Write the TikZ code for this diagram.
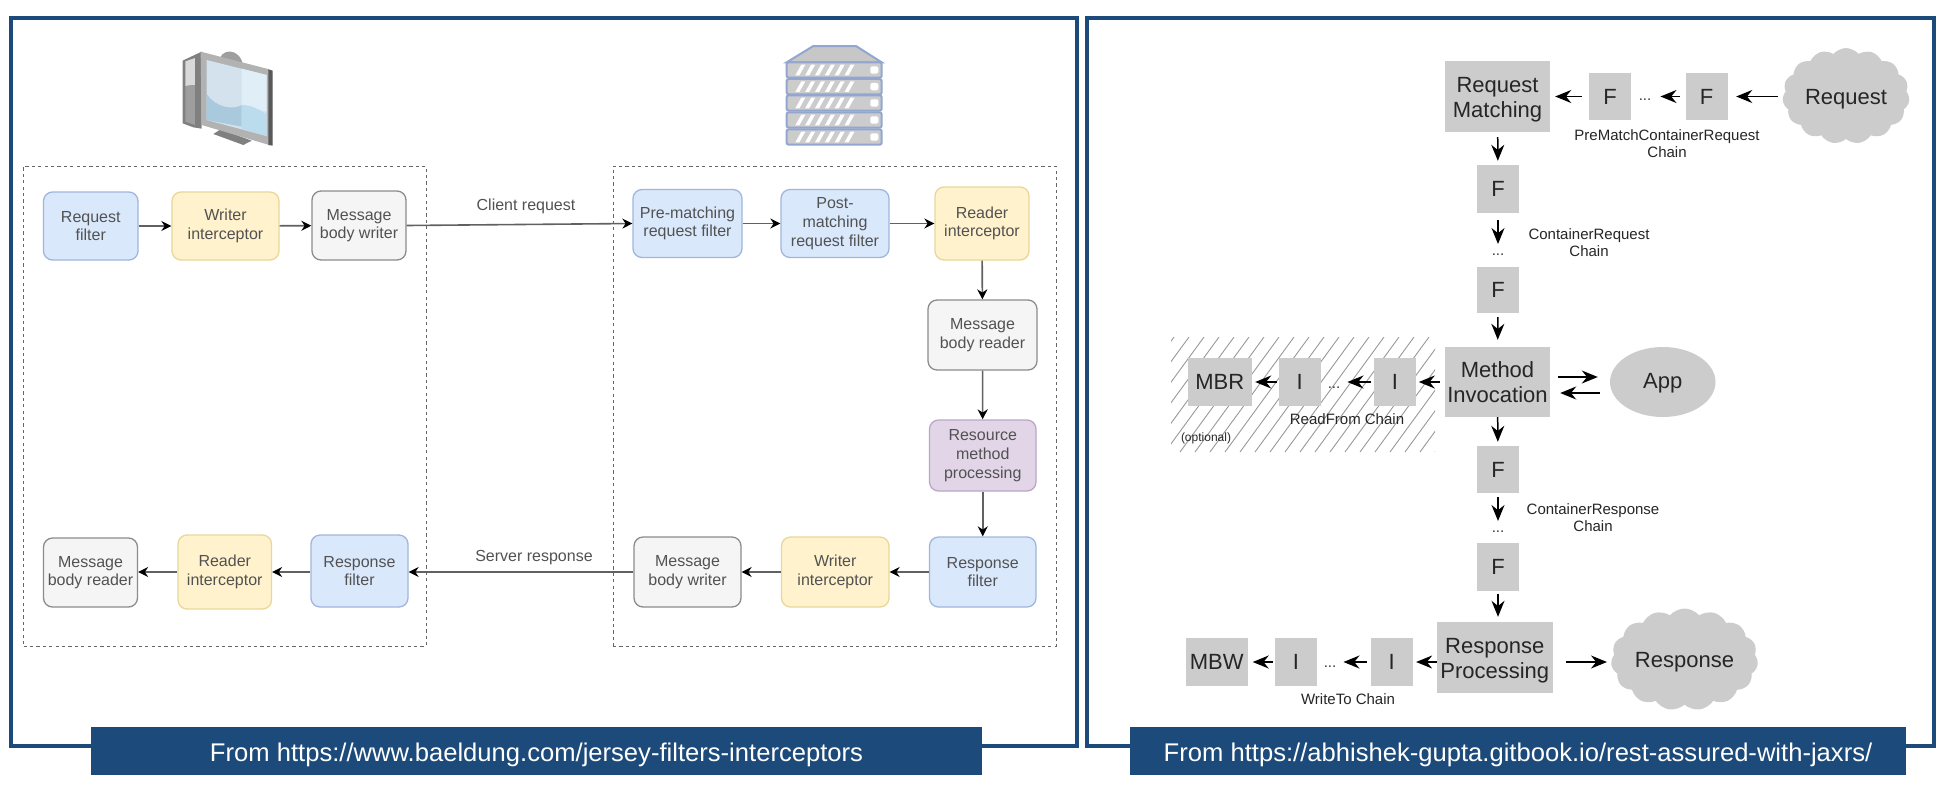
\documentclass[tikz,border=0pt]{standalone}
\usepackage{fontspec}
\setmainfont{Liberation Sans}
\usetikzlibrary{arrows.meta,shapes.symbols,shapes.geometric}
\definecolor{navy}{HTML}{1C4A7A}
\definecolor{gbox}{HTML}{CCCCCC}
\definecolor{colorbluedraw}{HTML}{A0B6DC}
\definecolor{colorbluefill}{HTML}{DAE8FC}
\definecolor{coloryellowdraw}{HTML}{E9D79A}
\definecolor{coloryellowfill}{HTML}{FFF2CC}
\definecolor{colorpurpledraw}{HTML}{BBA6CB}
\definecolor{colorpurplefill}{HTML}{E1D5E7}
\definecolor{colorscreenA}{HTML}{D3E2EC}
\definecolor{colorscreenB}{HTML}{E0EEF7}
\definecolor{colorscreenC}{HTML}{A9C9DC}
\definecolor{colorscreenD}{HTML}{BBDCEC}
\definecolor{colorsrv}{HTML}{93A6CF}
\newcommand{\lowertext}{\rule{0pt}{21pt}}
\tikzset{
  frame/.style={draw=navy,line width=4pt,inner sep=0pt,fill=white},
  banner/.style={fill=navy,text=white,inner sep=0pt,minimum width=#1,minimum height=48pt,font=\fontsize{25.6}{28}\selectfont},
  zone/.style={draw=black!60,line width=1pt,dash pattern=on 3.2pt off 3.2pt,inner sep=0pt},
  flow/.style={rounded corners=9pt,inner sep=0pt,align=center,text=black!68,line width=1.3pt,font=\fontsize{16}{18.7}\selectfont},
  bluebox/.style={flow,draw=colorbluedraw,fill=colorbluefill},
  yellowbox/.style={flow,draw=coloryellowdraw,fill=coloryellowfill},
  greybox/.style={flow,draw=black!45,fill=black!4},
  purplebox/.style={flow,draw=colorpurpledraw,fill=colorpurplefill},
  lab/.style={text=black!68,inner sep=0pt,font=\fontsize{16}{19}\selectfont},
  flowarr/.style={draw=black!62,line width=1.6pt,-{Stealth[length=10pt,width=10pt,black]}},
  gnode/.style={fill=gbox,inner sep=0pt,align=center,text=black!85,font=\fontsize{22}{25}\selectfont},
  gcloud/.style={cloud,cloud puffs=15,cloud puff arc=100,fill=gbox,inner sep=0pt,text=black!85,font=\fontsize{22}{25}\selectfont},
  glab/.style={inner sep=0pt,align=center,text=black!85,font=\fontsize{15}{17}\selectfont},
  gdots/.style={inner sep=0pt,text=black!80,font=\fontsize{15}{17}\selectfont},
  garr/.style={draw=black,line width=1.5pt,-{Stealth[length=16pt,width=13pt]}},
}
\begin{document}
\begin{tikzpicture}[x=1pt,y=-1pt]
\useasboundingbox (0,0) rectangle (1954,796);
\fill[white] (0,0) rectangle (1954,796);
% frames
\node[frame,minimum width=1066pt,minimum height=727.5pt] (frameL) at (544,381.75) {};
\node[frame,minimum width=847pt,minimum height=727.5pt] (frameR) at (1510.5,381.75) {};
\node[banner=891pt] (banL) at (536.5,751) {\rule{0pt}{27pt}From https://www.baeldung.com/jersey-filters-interceptors};
\node[banner=776pt] (banR) at (1518,751) {\rule{0pt}{27pt}From https://abhishek-gupta.gitbook.io/rest-assured-with-jaxrs/};
% computer icon
\begin{scope}[shift={(160,30)},x=0.3333pt,y=-0.3333pt]
  \fill[black!38] (176,100) .. controls (178,52) and (242,50) .. (250,110) -- cycle;
  \fill[black!50] (68,92) -- (125,65) -- (125,296) -- (100,292) -- (68,280) -- cycle;
  \fill[black!15] (76,94) -- (105,84) -- (105,165) -- (76,168) -- cycle;
  \fill[black!38] (76,168) -- (105,165) -- (105,285) -- (76,275) -- cycle;
  \fill[black!50] (160,312) -- (182,298) -- (275,332) -- (250,345) -- cycle;
  \fill[black!30] (122,65) -- (328,118) -- (328,345) -- (125,285) -- cycle;
  \fill[black!65] (325,118) -- (338,122) -- (338,347) -- (325,345) -- cycle;
  \fill[colorscreenA] (140,90) -- (320,135) -- (320,318) -- (140,270) -- cycle;
  \fill[colorscreenB] (245,116) -- (320,135) -- (320,245) -- (245,225) -- cycle;
  \fill[colorscreenC] (140,192) .. controls (170,235) and (220,240) .. (245,225) -- (245,290) -- (140,270) -- cycle;
  \fill[colorscreenD] (245,225) .. controls (275,225) and (300,240) .. (320,255) -- (320,318) -- (245,298) -- cycle;
\end{scope}
% server icon
\begin{scope}[shift={(770,30)},x=0.3333pt,y=-0.3333pt]
  \draw[draw=colorsrv,fill=black!22,line width=2pt] (50,97) -- (130,48) -- (258,48) -- (335,97) -- cycle;
  \foreach \yc in {120,170,219,270,321}{
    \draw[draw=colorsrv,fill=black!20,line width=2pt,rounded corners=2pt] (50,\yc-23) rectangle (335,\yc+23);
    \foreach \i in {0,...,5}{
      \fill[white] (76+29.5*\i,\yc+16) -- (88+29.5*\i,\yc+16) -- (106+29.5*\i,\yc-16) -- (94+29.5*\i,\yc-16) -- cycle;
    }
    \fill[white,rounded corners=1.5pt] (301,\yc-11) rectangle (325,\yc+11);
  }
\end{scope}
% dashed zones
\node[zone,minimum width=402.5pt,minimum height=480pt] (zoneL) at (224.75,406) {};
\node[zone,minimum width=443pt,minimum height=480pt] (zoneR) at (834.5,406) {};
% left diagram nodes
\node[bluebox,minimum width=94.5pt,minimum height=68pt] (rf) at (90.75,226) {Request\\filter};
\node[yellowbox,minimum width=107pt,minimum height=68pt] (wi) at (225.5,226) {Writer\\interceptor};
\node[greybox,minimum width=94pt,minimum height=69pt] (mw) at (359,225.5) {Message\\body writer};
\node[bluebox,minimum width=109pt,minimum height=68pt] (pre) at (687.5,223.5) {Pre-matching\\request filter};
\node[bluebox,minimum width=108pt,minimum height=68pt] (post) at (835,223.5) {Post-\\matching\\request filter};
\node[yellowbox,minimum width=94pt,minimum height=73pt] (ri) at (982,223.5) {Reader\\interceptor};
\node[greybox,minimum width=109pt,minimum height=70pt] (mr) at (982.5,335) {Message\\body reader};
\node[purplebox,minimum width=106.5pt,minimum height=71pt] (res) at (982.75,455.5) {Resource\\method\\processing};
\node[bluebox,minimum width=106.5pt,minimum height=70pt] (srf) at (982.75,572) {Response\\filter};
\node[yellowbox,minimum width=107.5pt,minimum height=70pt] (swi) at (835.25,572) {Writer\\interceptor};
\node[greybox,minimum width=107pt,minimum height=70pt] (smw) at (687.5,572) {Message\\body writer};
\node[bluebox,minimum width=97pt,minimum height=72pt] (crf) at (359.5,571) {Response\\filter};
\node[yellowbox,minimum width=93.5pt,minimum height=74pt] (cri) at (224.75,572) {Reader\\interceptor};
\node[greybox,minimum width=94pt,minimum height=69pt] (cmr) at (90.5,572.5) {Message\\body reader};
\node[lab] (lc) at (526,206) {Client request};
\node[lab] (ls) at (534,558) {Server response};
% left connectors
\draw[flowarr] (rf) -- (wi);
\draw[flowarr] (wi) -- (mw);
\draw[flowarr] (mw.east) -- (pre.west);
\draw[flowarr] (pre) -- (post);
\draw[flowarr] (post) -- (ri);
\draw[flowarr] (ri) -- (mr);
\draw[flowarr] (mr) -- (res);
\draw[flowarr] (res) -- (srf);
\draw[flowarr] (srf) -- (swi);
\draw[flowarr] (swi) -- (smw);
\draw[flowarr] (smw.west) -- (crf.east |- smw.west);
\draw[flowarr] (crf.west |- cri.east) -- (cri.east);
\draw[flowarr] (cri.west) -- (cmr.east |- cri.west);
% hatching
\begin{scope}
  \clip (1171,337) rectangle (1435,452);
  \foreach \hx in {1090,1105,...,1435}{
    \draw[black!40,line width=0.9pt] (\hx,452) -- (\hx+84,337);
  }
\end{scope}
% right diagram nodes
\node[gnode,minimum width=105pt,minimum height=71pt] (rm) at (1497.5,96.5) {\lowertext Request\\Matching};
\node[gnode,minimum width=42pt,minimum height=47pt] (f1) at (1610,96.5) {F};
\node[gnode,minimum width=42pt,minimum height=47pt] (f2) at (1706.5,96.5) {F};
\node[gcloud,minimum width=127pt,minimum height=95pt,aspect=1.34] (req) at (1846,96) {\lowertext Request};
\node[gdots] (d0) at (1645,100) {...};
\node[glab] (l1) at (1667,144) {PreMatchContainerRequest\\Chain};
\node[gnode,minimum width=42pt,minimum height=48pt] (f3) at (1498,189) {F};
\node[gdots] (d1) at (1498,255) {...};
\node[glab] (l2) at (1589,242.5) {ContainerRequest\\Chain};
\node[gnode,minimum width=42pt,minimum height=46pt] (f4) at (1498,290) {F};
\node[gnode,minimum width=105pt,minimum height=70pt] (mi) at (1497.5,382) {Method\\Invocation};
\node[gnode,minimum width=63.5pt,minimum height=48pt] (mbr) at (1219.75,382) {MBR};
\node[gnode,minimum width=41.5pt,minimum height=48pt] (i1) at (1299.75,382) {I};
\node[gnode,minimum width=42pt,minimum height=48pt] (i2) at (1395,382) {I};
\node[gdots] (d2) at (1334,388) {...};
\node[ellipse,fill=gbox,inner sep=0pt,minimum width=105.5pt,minimum height=70pt,text=black!85,font=\fontsize{22}{25}\selectfont] (app) at (1662.75,382) {\rule{0pt}{18pt}App};
\node[glab] (l3) at (1347,419) {ReadFrom Chain};
\node[glab,font=\fontsize{12}{14}\selectfont] (l4) at (1206,438) {(optional)};
\node[gnode,minimum width=42pt,minimum height=47pt] (f5) at (1498,469.5) {F};
\node[gdots] (d3) at (1498,532) {...};
\node[glab] (l5) at (1593,518) {ContainerResponse\\Chain};
\node[gnode,minimum width=42pt,minimum height=48pt] (f6) at (1498,567) {F};
\node[gnode,minimum width=115.5pt,minimum height=71pt] (rp) at (1494.75,657.5) {\lowertext Response\\Processing};
\node[gcloud,minimum width=147pt,minimum height=95pt,aspect=1.55] (resp) at (1684.5,659.5) {\lowertext Response};
\node[gnode,minimum width=62.5pt,minimum height=48pt] (mbw) at (1216.75,662) {MBW};
\node[gnode,minimum width=42pt,minimum height=48pt] (j1) at (1296,662) {I};
\node[gnode,minimum width=41.5pt,minimum height=48pt] (j2) at (1391.75,662) {I};
\node[gdots] (d4) at (1330,667) {...};
\node[glab] (l6) at (1348,699) {WriteTo Chain};
% right connectors
\draw[garr,shorten <=5pt,shorten >=8.5pt] (req.west |- f2.east) -- (f2.east);
\draw[garr,shorten <=5.5pt,shorten >=9pt] (f2.west) -- (d0.east |- f2.west);
\draw[garr,shorten <=7pt,shorten >=5pt] (f1) -- (rm);
\draw[garr,shorten <=5pt,shorten >=4pt] (rm) -- (f3);
\draw[garr,shorten <=7pt,shorten >=10pt] (f3) -- (d1);
\draw[garr,shorten <=4pt,shorten >=7pt] (f4) -- (mi);
\draw[garr,shorten <=0pt,shorten >=4pt] (mi) -- (f5);
\draw[garr,shorten <=4pt,shorten >=10pt] (f5) -- (d3);
\draw[garr,shorten <=3pt,shorten >=5pt] (f6) -- (rp.north -| f6.south);
\draw[garr,shorten <=5pt,shorten >=2.6pt] (mi) -- (i2);
\draw[garr,shorten <=3pt,shorten >=7pt] (i2.west) -- (d2.east |- i2.west);
\draw[garr,shorten <=2pt,shorten >=3.5pt] (i1) -- (mbr);
\draw[garr,shorten <=7.5pt,shorten >=12pt] ([yshift=5pt]mi.east) -- ([yshift=5pt]app.west);
\draw[garr,shorten <=10pt,shorten >=10pt] ([yshift=-11pt]app.west) -- ([yshift=-11pt]mi.east);
\draw[garr,shorten >=3.4pt] (rp.west |- j2.east) -- (j2.east);
\draw[garr,shorten <=4pt,shorten >=7pt] (j2.west) -- (d4.east |- j2.west);
\draw[garr,shorten <=2pt,shorten >=4.5pt] (j1) -- (mbw);
\draw[garr,shorten <=13.4pt,shorten >=4.5pt] (rp.east |- j2.east) -- (resp.west |- j2.east);
\end{tikzpicture}
\end{document}
